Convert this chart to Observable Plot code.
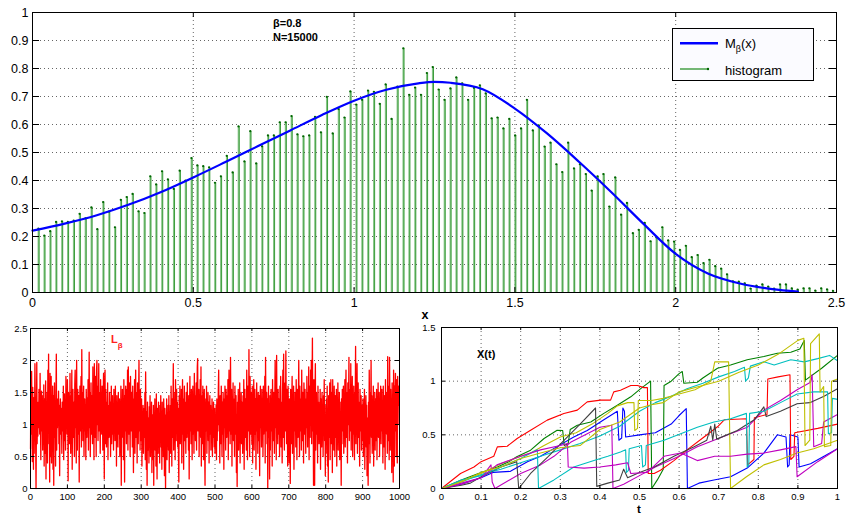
<!DOCTYPE html>
<html><head><meta charset="utf-8">
<script src="https://cdn.jsdelivr.net/npm/d3@7"></script>
<script src="https://cdn.jsdelivr.net/npm/@observablehq/plot@0.6"></script>
<style>
body{margin:0;background:#fff;}
#wrap{position:relative;width:847px;height:516px;overflow:hidden;background:#fff;}
#wrap svg{position:absolute;}
</style></head>
<body><div id="wrap"></div>
<script>
const FONT = '"Liberation Sans", Arial, Helvetica, sans-serif';

// ---------- Top panel data ----------
const topXTicks = [0, 0.5, 1, 1.5, 2, 2.5];
const topYTicks = [0, 0.1, 0.2, 0.3, 0.4, 0.5, 0.6, 0.7, 0.8, 0.9, 1];
const binWidth = 0.0183;
const histValues = [
0.228,0.203,0.219,0.252,0.254,0.252,0.257,0.281,0.265,0.304,0.226,0.323,0.289,0.233,0.331,0.341,0.352,0.290,0.284,0.415,
0.386,0.433,0.404,0.370,0.435,0.400,0.480,0.454,0.451,0.447,0.392,0.415,0.488,0.429,0.593,0.468,0.576,0.461,0.522,0.561,
0.561,0.608,0.608,0.630,0.565,0.558,0.561,0.627,0.572,0.699,0.568,0.655,0.625,0.718,0.671,0.688,0.721,0.717,0.674,0.743,
0.620,0.735,0.872,0.706,0.732,0.706,0.784,0.805,0.725,0.688,0.729,0.768,0.747,0.688,0.731,0.740,0.711,0.622,0.625,0.586,
0.620,0.561,0.586,0.688,0.579,0.597,0.521,0.535,0.458,0.430,0.535,0.443,0.458,0.423,0.364,0.415,0.423,0.307,0.411,0.278,
0.320,0.212,0.224,0.249,0.183,0.197,0.233,0.186,0.182,0.152,0.167,0.126,0.134,0.105,0.117,0.094,0.085,0.065,0.040,0.039,
0.033,0.014,0.025,0.029,0.021,0.014,0.029,0.029,0.015,0.010,0.015,0.015,0.007,0.015,0.011,0.006];
const curveX = [0,0.1,0.2,0.3,0.4,0.5,0.6,0.7,0.8,0.9,1.0,1.1,1.2,1.25,1.3,1.4,1.5,1.6,1.7,1.8,1.9,2.0,2.1,2.2,2.3,2.38];
const curveY = [0.221,0.246,0.276,0.314,0.359,0.411,0.466,0.522,0.578,0.634,0.685,0.724,0.747,0.752,0.749,0.726,0.657,0.568,0.466,0.358,0.245,0.138,0.068,0.032,0.012,0.003];

// ---------- Bottom-left data (L_beta series) ----------
const lbXTicks = [0,100,200,300,400,500,600,700,800,900,1000];
const lbYTicks = [0,0.5,1,1.5,2,2.5];
const lbetaValues = [
0.62,1.62,0.85,1.83,1.2,0.42,1.58,0.95,0.3,1.42,0.55,1.1,1.95,1.4,0.7,0,0.9,1.97,0.7,1.15,0.82,1.35,0.95,1.55,1.2,
0.85,1.8,1.05,0.45,1.3,1.52,0.9,1.45,0.6,1.2,0.75,1.62,0.35,1.4,1.1,0.55,1.68,0.15,1.25,0.9,1.5,0.4,1.85,1.05,2.1,
0.7,1.45,0.1,1.8,0.5,1.35,1.75,0.4,1.2,0.95,1.6,0.3,1.45,0.05,1.3,1.65,0.8,1.1,0.35,1.5,2.1,0.6,1.25,0.95,1.4,
1.0,1.52,0.7,1.3,0.2,1.15,1.4,0.85,1.25,1.0,0.55,1.35,1.2,0.9,1.6,0.45,1.1,1.48,0.75,1.3,0.6,1.75,1.0,1.4,0.85,
1.7,1.2,0.12,1.5,0.95,1.3,0.7,1.8,1.1,0.55,1.45,1.0,1.85,0.3,1.2,1.55,0.8,1.35,1.05,0.5,1.62,1.85,0.95,1.25,0.4,
2.0,1.1,0.6,1.55,1.3,0.85,1.45,0.1,1.2,1.6,0.9,1.35,1.75,0.65,2.17,1.0,1.5,0.75,1.25,1.6,0.5,1.15,1.4,0.9,1.3,
0.45,1.55,1.2,0.8,1.42,1.05,1.7,0.6,1.3,2.13,0.95,1.5,0.5,1.25,1.65,0.85,1.45,1.1,0.7,1.9,1.3,1.55,0.45,1.95,1.2,
0.8,1.75,1.4,0.5,1.85,2.0,1.0,1.6,0.75,1.3,1.95,0.9,1.5,1.2,0.55,1.7,1.05,1.4,0.85,1.6,1.25,0.6,1.45,1.8,0.95,
0.15,1.4,1.85,0.7,1.55,1.2,0.65,1.35,1.0,1.65,0.45,1.3,1.1,0.8,1.5,0.95,1.35,0.5,1.2,1.6,0.7,1.05,1.45,0.85,1.25,
0.6,1.55,1.0,1.35,0.75,1.6,0.9,1.2,0.35,1.45,1.05,1.3,0.65,1.5,0.85,1.15,1.4,0.5,1.25,0.95,1.6,0.05,1.35,1.0,1.55,
0.8,1.3,0.45,1.7,1.1,0.1,1.45,0.9,1.6,1.25,0.7,1.55,1.05,1.85,0.6,1.9,1.3,0.85,1.65,1.15,0.5,1.75,1.35,0.9,1.5,
1.2,0.65,1.6,0.95,0.25,1.4,1.1,1.7,0.55,1.3,1.85,0.8,1.5,1.05,0.4,1.65,1.25,0.7,1.45,2.0,0.9,1.35,0.6,1.55,1.1,
0.75,1.4,0.35,1.15,0.9,1.3,0.55,1.05,1.25,0.8,1.5,0.45,1.82,1.0,0.3,1.2,0.05,1.35,0.9,0.6,1.1,0.4,1.28,0.85,1.45,
0.5,1.0,0.7,1.35,0.25,1.15,0.95,0.45,1.3,0.05,1.1,0.8,1.4,0.6,1.2,0.35,1.48,0.9,0.15,1.25,1.05,0.55,1.35,0.75,1.15,
0.4,1.3,0.95,1.45,0.65,1.1,0.3,1.35,0.85,1.2,0.5,1.4,1.0,0.2,1.25,0.7,0,1.15,0.9,1.4,0.45,1.05,0.75,1.3,0.6,
1.45,0.25,1.1,0.85,1.3,0.55,1.6,1.0,0.35,1.4,0.8,1.2,1.95,0.6,1.5,0.9,1.3,0.45,1.7,1.15,0.75,1.55,1.05,1.35,0.65,
1.25,0.5,0.1,1.45,1.0,1.6,0.7,1.3,0.9,1.55,0.4,1.2,1.7,0.85,1.4,0.3,1.15,1.6,0.75,1.35,1.05,0.55,1.5,1.25,0.8,
1.65,0.95,1.3,0.6,1.45,0.15,1.2,1.75,0.9,1.4,0.7,1.55,1.1,0.45,1.35,1.6,0.85,1.25,0.55,1.8,1.0,1.45,0.75,1.3,1.65,
0.6,1.4,1.9,2.03,0.9,1.25,1.55,0.5,1.35,1.1,1.7,0.8,1.9,0.35,1.45,1.2,0.7,1.6,1.0,0.45,1.3,1.55,0.65,0.05,1.2,
1.4,0.9,1.6,0.55,1.25,1.05,1.5,0.75,1.35,0.4,1.15,1.45,0.85,1.3,0.6,1.2,0.95,1.4,0.5,1.1,0.8,1.35,1.0,0.65,1.25,
0.55,1.1,0.85,1.3,0.45,1.4,0.75,1.2,1.0,1.55,1.85,0.9,1.3,0.4,1.45,1.15,0.7,1.6,1.05,0.5,1.35,0.85,1.5,1.2,0.3,
1.4,0.95,1.6,1.1,0.6,1.55,1.25,0.8,1.45,1.0,1.7,0.45,1.35,1.85,0.9,1.5,0.7,2.05,1.2,0.85,1.55,0.35,1.3,1.0,1.65,
0.75,1.4,1.1,0.5,1.6,1.25,0.85,1.45,0.25,1.15,0.03,1.35,0.95,1.55,0.6,1.3,1.05,1.65,0.4,1.2,0.9,1.5,0.7,1.35,1.1,
0.55,1.45,0.95,1.7,0.3,1.25,1.55,0.8,1.4,1.1,0.6,1.85,1.2,0.45,1.6,1.35,0.9,2.17,1.05,0.5,1.75,1.3,0.85,1.5,1.15,
0.7,1.6,0.4,1.35,1.0,1.7,0.6,1.25,1.55,0.85,1.4,0.3,1.15,1.65,0.9,1.3,0.55,1.5,1.1,0.75,1.45,0.2,1.3,1.6,0.95,
1.2,0.65,1.55,1.0,1.35,0.5,1.6,0.85,1.3,1.05,1.75,0.4,2.05,1.2,0.9,1.5,0.7,1.4,0,1.15,1.6,0.8,1.3,0.15,1.45,
0.6,1.25,1.55,0.9,1.4,0.35,1.7,1.1,0.75,1.5,1.2,0.55,1.35,2.0,0.95,1.6,0.45,2.08,1.05,1.3,0.7,1.55,0.85,1.4,1.15,
0.5,1.6,1.0,1.75,0.65,1.35,1.1,0.4,1.5,1.85,0.8,2.1,1.2,0.6,1.45,1.65,0.9,2.15,1.3,0.7,1.55,1.0,0.35,1.6,1.25,
0.85,0.4,1.4,1.05,0.08,1.55,1.15,0.7,1.3,1.75,0.55,1.45,1.0,1.6,0.3,1.35,0.9,1.5,1.2,0.65,1.7,1.1,0.45,1.55,1.3,
0.8,1.45,2.0,1.05,0.5,1.6,1.25,0.9,1.4,0.6,1.85,1.15,0.75,1.5,1.0,0.4,1.65,1.3,0.85,1.55,1.1,0.55,1.4,0.95,1.75,
1.2,0.65,1.5,1.0,1.9,0.45,1.35,1.6,0.8,1.85,1.1,2.0,0.7,1.55,2.35,0.9,1.3,0.05,1.7,1.15,0.05,1.45,1.95,0.6,1.25,
1.5,0.85,1.3,0.4,1.6,1.05,1.35,0.7,1.2,0.95,1.55,0.3,1.4,1.1,0.65,1.5,0.9,1.25,0.5,1.45,1.0,1.7,0.75,1.3,0.2,
1.15,0.55,1.4,0.9,1.6,0.35,1.25,0.1,1.45,0.8,1.05,1.65,0.45,1.3,1.7,0.7,1.15,1.5,0.25,1.7,0.95,1.35,0.6,1.6,1.05,
0.5,1.45,0.8,1.2,1.55,0.35,1.3,0.95,1.65,0.6,1.25,1.0,1.5,0.45,1.35,0.85,1.1,0.05,1.4,0.7,1.55,1.2,0.9,1.6,0.55,
1.3,1.05,1.7,0.65,1.4,1.85,0.8,1.5,1.2,0.4,1.65,1.0,1.35,2.05,0.75,1.55,1.25,0.9,1.95,0.6,1.45,1.1,1.75,0.5,1.3,
0.85,1.6,1.05,0.45,1.5,1.3,2.22,0.7,1.4,0.95,1.95,0.55,1.25,1.65,0.8,1.35,1.1,0.35,1.55,0.9,1.2,1.45,0.6,1.3,1.0,
0.75,1.4,0.5,1.15,0.95,1.55,0.3,1.25,1.05,1.45,0.65,1.3,0.2,1.1,0.85,0.05,1.35,0.7,1.85,1.0,0.4,1.5,1.2,2.0,0.8,
1.45,0.55,1.3,1.05,1.6,0.35,1.25,0.9,1.5,0.6,1.4,1.15,0.75,1.55,0.45,1.35,1.0,1.65,0.8,1.2,1.5,0.5,1.4,1.05,1.6,
0.7,1.3,1.55,0.9,1.2,0.4,1.6,1.1,0.65,1.45,1.25,0.3,1.7,1.0,1.5,0.85,1.35,0.55,2.06,1.15,0.75,1.6,0.45,2.05,1.3,
0.6,1.55,1.0,1.4,0.25,1.65,0.85,1.2,0.1,1.85,1.45,0.35,1.6,0.9,1.8,1.3,0.5,1.7,1.1,0.4,1.75,1.0,1.6,1.3,1.55];

// ---------- Bottom-right data (X(t) paths, [t, x]) ----------
const xtXTicks = [0,0.1,0.2,0.3,0.4,0.5,0.6,0.7,0.8,0.9,1];
const xtYTicks = [0,0.5,1,1.5];
const xtBlue = [[0,0],[0.05,0.04],[0.1,0.1],[0.13,0.15],[0.174,0.16],[0.217,0.25],[0.25,0.3],[0.292,0.39],[0.334,0.48],[0.368,0.54],[0.41,0.64],[0.444,0.72],[0.448,0.45],[0.455,0.47],[0.458,0.75],[0.462,0.72],[0.465,0.48],[0.5,0.5],[0.54,0.52],[0.58,0.6],[0.6,0.68],[0.618,0.745],[0.621,0.0],[0.65,0.05],[0.688,0.08],[0.73,0.11],[0.772,0.19],[0.814,0.33],[0.848,0.5],[0.87,0.48],[0.874,0.2],[0.878,0.22],[0.88,0.5],[0.9,0.48],[0.903,0.2],[0.932,0.23],[0.966,0.3],[1,0.37]];
const xtGreen = [[0,0],[0.05,0.08],[0.1,0.15],[0.141,0.2],[0.17,0.25],[0.19,0.295],[0.225,0.357],[0.259,0.466],[0.292,0.543],[0.306,0.54],[0.31,0.4],[0.32,0.42],[0.325,0.55],[0.343,0.59],[0.377,0.62],[0.41,0.7],[0.444,0.776],[0.478,0.854],[0.503,0.93],[0.528,1.0],[0.531,0],[0.545,0.08],[0.56,0.18],[0.562,0.96],[0.58,1.0],[0.6,1.07],[0.608,1.09],[0.612,0.98],[0.646,0.99],[0.66,1.03],[0.697,1.12],[0.73,1.15],[0.772,1.2],[0.814,1.23],[0.848,1.26],[0.882,1.27],[0.905,1.3],[0.916,1.38],[0.919,1.01],[0.96,1.12],[1,1.24]];
const xtRed = [[0,0],[0.048,0.14],[0.082,0.2],[0.1,0.25],[0.132,0.3],[0.141,0.388],[0.166,0.394],[0.191,0.466],[0.225,0.543],[0.267,0.637],[0.309,0.699],[0.343,0.73],[0.368,0.807],[0.402,0.823],[0.427,0.823],[0.435,0.9],[0.452,0.916],[0.478,0.96],[0.495,0.96],[0.511,0.94],[0.52,0.94],[0.522,0.14],[0.537,0.14],[0.553,0.17],[0.587,0.26],[0.62,0.36],[0.663,0.48],[0.697,0.575],[0.714,0.64],[0.77,0.65],[0.773,0.22],[0.789,0.27],[0.79,0.66],[0.822,0.69],[0.824,1.02],[0.85,1.04],[0.88,1.06],[0.882,0.27],[0.89,0.3],[0.892,0.52],[0.95,0.56],[1,0.6]];
const xtCyan1 = [[0,0],[0.05,0.06],[0.1,0.13],[0.15,0.18],[0.2,0.24],[0.25,0.3],[0.3,0.36],[0.35,0.42],[0.4,0.49],[0.45,0.58],[0.5,0.72],[0.54,0.8],[0.58,0.86],[0.62,0.93],[0.66,0.98],[0.7,1.04],[0.74,1.09],[0.765,1.13],[0.768,1.0],[0.775,1.03],[0.78,1.14],[0.814,1.18],[0.84,1.15],[0.882,1.2],[0.916,1.18],[0.95,1.21],[0.98,1.24],[1,1.19]];
const xtCyan2 = [[0,0],[0.05,0.08],[0.1,0.12],[0.15,0.2],[0.2,0.28],[0.235,0.35],[0.242,0.36],[0.245,0],[0.284,0.08],[0.334,0.2],[0.385,0.26],[0.42,0.3],[0.452,0.34],[0.465,0.36],[0.467,0.15],[0.472,0.17],[0.474,0.37],[0.505,0.4],[0.508,0.2],[0.515,0.22],[0.517,0.4],[0.562,0.45],[0.604,0.51],[0.646,0.57],[0.688,0.62],[0.73,0.65],[0.77,0.7],[0.772,0.2],[0.776,0.22],[0.778,0.7],[0.814,0.72],[0.856,0.8],[0.898,0.88],[0.94,0.9],[0.975,0.9],[0.977,0.51],[0.985,0.52],[0.987,0.84],[1,0.83]];
const xtMagenta1 = [[0,0],[0.05,0.05],[0.1,0.1],[0.125,0.22],[0.128,0.06],[0.135,0],[0.2,0.14],[0.25,0.22],[0.284,0.3],[0.326,0.43],[0.368,0.51],[0.4,0.57],[0.43,0.59],[0.433,0],[0.46,0.04],[0.5,0.12],[0.54,0.2],[0.6,0.3],[0.646,0.39],[0.688,0.45],[0.73,0.51],[0.772,0.57],[0.814,0.73],[0.856,0.82],[0.898,0.92],[0.932,0.99],[0.936,1.06],[0.94,0.39],[0.96,0.42],[0.965,0.62],[1,0.69]];
const xtMagenta2 = [[0,0],[0.05,0.04],[0.1,0.1],[0.14,0.22],[0.2,0.3],[0.25,0.36],[0.3,0.4],[0.318,0.42],[0.32,0.2],[0.36,0.19],[0.4,0.2],[0.44,0.22],[0.47,0.24],[0.478,0.14],[0.52,0.15],[0.562,0.3],[0.604,0.33],[0.646,0.26],[0.69,0.3],[0.73,0.3],[0.772,0.32],[0.814,0.33],[0.856,0.36],[0.895,0.39],[0.898,0.11],[0.95,0.25],[1,0.37]];
const xtYellow1 = [[0,0],[0.05,0.07],[0.1,0.14],[0.15,0.23],[0.2,0.3],[0.225,0.33],[0.259,0.4],[0.3,0.48],[0.34,0.52],[0.38,0.6],[0.42,0.7],[0.444,0.77],[0.47,0.8],[0.486,0.8],[0.488,0.54],[0.495,0.56],[0.497,0.82],[0.53,0.82],[0.56,0.84],[0.6,0.88],[0.64,0.92],[0.68,1.0],[0.69,1.18],[0.725,1.18],[0.73,0],[0.77,0.11],[0.814,0.22],[0.856,0.27],[0.898,0.33],[0.94,0.37],[1,0.45]];
const xtYellow2 = [[0,0],[0.05,0.06],[0.1,0.15],[0.15,0.2],[0.2,0.28],[0.25,0.33],[0.3,0.38],[0.35,0.4],[0.4,0.55],[0.45,0.62],[0.5,0.75],[0.53,0.78],[0.56,0.8],[0.6,0.9],[0.65,0.95],[0.7,1.0],[0.75,1.08],[0.8,1.15],[0.85,1.25],[0.9,1.38],[0.915,1.4],[0.918,0.4],[0.93,0.45],[0.932,1.35],[0.954,1.44],[0.956,0.9],[0.965,0.95],[0.967,0.39],[0.983,0.4],[0.985,1.0],[1,1.02]];
const xtBlack = [[0,0],[0.05,0.03],[0.073,0.05],[0.1,0.11],[0.15,0.2],[0.19,0.25],[0.195,0],[0.225,0.14],[0.27,0.3],[0.31,0.45],[0.35,0.6],[0.389,0.75],[0.392,0.02],[0.42,0.05],[0.45,0.08],[0.46,0.18],[0.47,0.1],[0.5,0.15],[0.537,0.2],[0.587,0.3],[0.638,0.39],[0.67,0.45],[0.68,0.58],[0.685,0.45],[0.69,0.6],[0.695,0.46],[0.747,0.54],[0.79,0.64],[0.814,0.76],[0.82,0.67],[0.856,0.72],[0.898,0.79],[0.93,0.8],[0.966,0.86],[1,0.93]];

const xtSeries = [
  {pts: xtBlue, color: "#0000ff"},
  {pts: xtGreen, color: "#008000"},
  {pts: xtRed, color: "#ff0000"},
  {pts: xtCyan1, color: "#00bfbf"},
  {pts: xtMagenta1, color: "#bf00bf"},
  {pts: xtYellow1, color: "#bfbf00"},
  {pts: xtBlack, color: "#404040"},
  {pts: xtCyan2, color: "#00bfbf"},
  {pts: xtMagenta2, color: "#bf00bf"},
  {pts: xtYellow2, color: "#bfbf00"}
];

// ---------- helpers ----------
const wrap = document.getElementById("wrap");
const fmt = d => String(d);
const gridStyle = {stroke: "#666", strokeOpacity: 1, strokeDasharray: "1,3", strokeWidth: 1};
function place(svg, left, top) {
  svg.style.left = left + "px";
  svg.style.top = top + "px";
  wrap.appendChild(svg);
}
function frameMarks(xt, yt, innerW, innerH, xLen, yLen, xPad, yPad) {
  return [
    Plot.frame({stroke: "#000", strokeWidth: 1}),
    Plot.ruleX(xt, {stroke: "#000", insetTop: innerH - xLen}),
    Plot.ruleX(xt, {stroke: "#000", insetBottom: innerH - xLen}),
    Plot.ruleY(yt, {stroke: "#000", insetRight: innerW - yLen}),
    Plot.ruleY(yt, {stroke: "#000", insetLeft: innerW - yLen}),
    Plot.axisX(xt, {tickSize: 0, tickPadding: xPad, tickFormat: fmt, label: null}),
    Plot.axisY(yt, {tickSize: 0, tickPadding: yPad, tickFormat: fmt, label: null})
  ];
}

// ---------- Top panel ----------
const hist = histValues.map((v, i) => ({x: (i + 1) * binWidth, v}));
const mCurve = curveX.map((x, i) => ({x, y: curveY[i]}));
const topPlot = Plot.plot({
  width: 847, height: 312,
  marginTop: 12, marginLeft: 32, marginRight: 11, marginBottom: 20,
  style: {background: "transparent", fontFamily: FONT, fontSize: "12.5px", color: "#000", overflow: "visible"},
  x: {domain: [0, 2.5]},
  y: {domain: [0, 1]},
  marks: [
    Plot.gridX(topXTicks, gridStyle),
    Plot.gridY(topYTicks, gridStyle),
    Plot.ruleX(hist, {x: "x", y1: 0, y2: "v", stroke: "#86c486", strokeWidth: 1.6}),
    Plot.ruleX(hist, {x: "x", y1: 0, y2: "v", stroke: "#008000", strokeWidth: 0.7, dx: 0.8}),
    Plot.dot(hist, {x: "x", y: "v", r: 1.1, fill: "#006400", stroke: null}),
    Plot.line(mCurve, {x: "x", y: "y", stroke: "#0000ff", strokeWidth: 2.2, curve: "monotone-x"}),
    ...frameMarks(topXTicks, topYTicks, 804, 280, 5, 7, 6, 4)
  ]
});
place(topPlot, 0, 0);

// ---------- Bottom-left panel ----------
const lbPlot = Plot.plot({
  width: 415, height: 198,
  marginTop: 10, marginLeft: 30, marginRight: 16, marginBottom: 28,
  style: {background: "transparent", fontFamily: FONT, fontSize: "9.5px", color: "#000", overflow: "visible"},
  x: {domain: [0, 1000]},
  y: {domain: [0, 2.5]},
  marks: [
    Plot.gridX(lbXTicks, gridStyle),
    Plot.gridY(lbYTicks, gridStyle),
    Plot.line(lbetaValues, {x: (d, i) => i, y: d => d, stroke: "#ff0000", strokeWidth: 1.3}),
    ...frameMarks(lbXTicks, lbYTicks, 369, 160, 3, 4, 4.5, 3)
  ]
});
place(lbPlot, 0, 318);

// ---------- Bottom-right panel ----------
const xtPlot = Plot.plot({
  width: 427, height: 198,
  marginTop: 9, marginLeft: 21, marginRight: 10, marginBottom: 28,
  style: {background: "transparent", fontFamily: FONT, fontSize: "9.5px", color: "#000", overflow: "visible"},
  x: {domain: [0, 1]},
  y: {domain: [0, 1.5]},
  marks: [
    Plot.gridX(xtXTicks, gridStyle),
    Plot.gridY(xtYTicks, gridStyle),
    ...xtSeries.map(s => Plot.line(s.pts, {x: d => d[0], y: d => d[1], stroke: s.color, strokeWidth: 1.1})),
    ...frameMarks(xtXTicks, xtYTicks, 396, 161, 3, 4, 4.5, 6)
  ]
});
place(xtPlot, 420, 318);

// ---------- Overlay texts & legend ----------
const ov = d3.select(wrap).append("svg")
  .attr("width", 847).attr("height", 516)
  .style("left", "0px").style("top", "0px")
  .style("pointer-events", "none")
  .style("font-family", FONT);

ov.append("text").attr("x", 273).attr("y", 26.5).attr("font-size", 11).attr("font-weight", "bold").text("β=0.8");
ov.append("text").attr("x", 273).attr("y", 40.5).attr("font-size", 11).attr("font-weight", "bold").text("N=15000");

const lb = ov.append("text").attr("x", 111).attr("y", 342.5).attr("font-weight", "bold").attr("fill", "#ff2020");
lb.append("tspan").attr("font-size", 11).text("L");
lb.append("tspan").attr("font-size", 8).attr("dy", 5).text("β");

ov.append("text").attr("x", 477).attr("y", 358).attr("font-size", 11).attr("font-weight", "bold").text("X(t)");
ov.append("text").attr("x", 421.5).attr("y", 318.5).attr("font-size", 12.5).attr("font-weight", "bold").text("x");
ov.append("text").attr("x", 639).attr("y", 512.5).attr("font-size", 11.5).attr("font-weight", "bold").attr("text-anchor", "middle").text("t");

// legend
const lg = ov.append("g").attr("transform", "translate(672,28)");
lg.append("rect").attr("x", 0.5).attr("y", 0.5).attr("width", 141).attr("height", 52).attr("fill", "#fbfbff").attr("stroke", "#000");
lg.append("line").attr("x1", 8).attr("x2", 46).attr("y1", 15.3).attr("y2", 15.3).attr("stroke", "#0000ff").attr("stroke-width", 2.4);
const mt = lg.append("text").attr("x", 53).attr("y", 19.5).attr("font-size", 13);
mt.append("tspan").text("M");
mt.append("tspan").attr("font-size", 9).attr("dy", 4).text("β");
mt.append("tspan").attr("dy", -4).text("(x)");
lg.append("line").attr("x1", 8).attr("x2", 36).attr("y1", 41).attr("y2", 41).attr("stroke", "#3a9a3a").attr("stroke-width", 1.4);
lg.append("circle").attr("cx", 36).attr("cy", 41).attr("r", 1.2).attr("fill", "#006400");
lg.append("text").attr("x", 53).attr("y", 46.5).attr("font-size", 13).text("histogram");
</script>
</body></html>
